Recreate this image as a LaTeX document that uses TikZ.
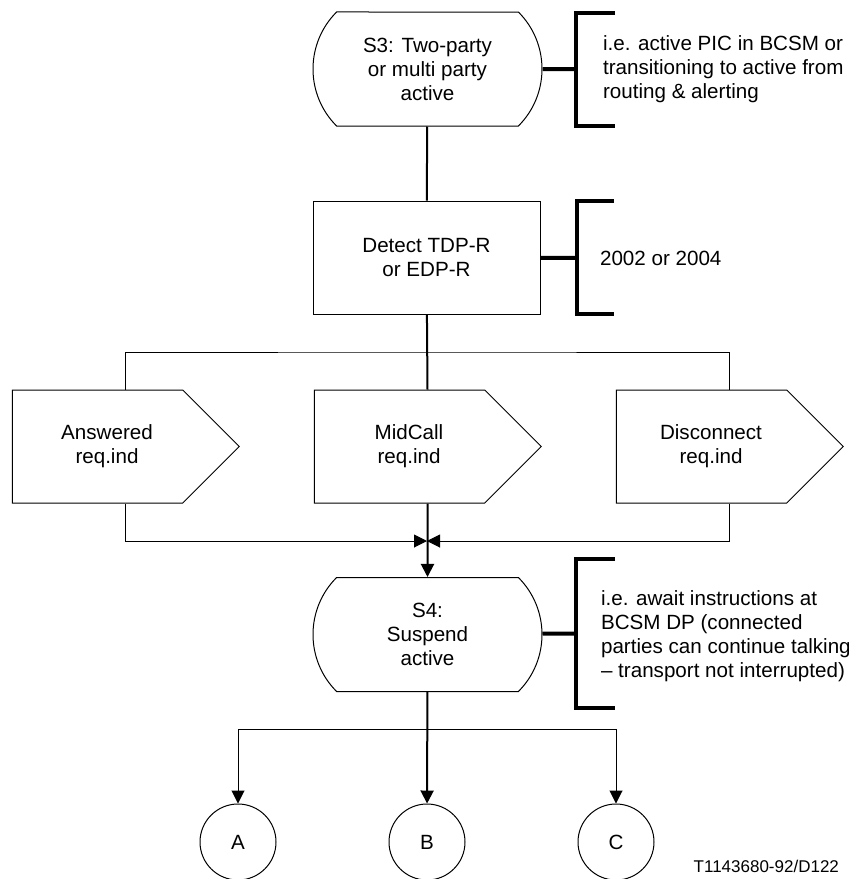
\documentclass[tikz,border=0pt]{standalone}
\usepackage{fontspec}
\setmainfont{Liberation Sans}
\usetikzlibrary{shapes.misc, shapes.symbols, arrows.meta, positioning}

\begin{document}
\begin{tikzpicture}[x=0.5pt, y=-0.5pt,
  font=\fontsize{10.3pt}{12pt}\selectfont,
  state/.style={rounded rectangle, rounded rectangle arc length=90, draw, line width=0.5pt, minimum width=114.5pt, minimum height=57pt, align=center, inner sep=0pt},
  box/.style={rectangle, draw, line width=0.5pt, minimum width=113.5pt, minimum height=56.5pt, align=center},
  sig/.style={signal, signal to=east, signal pointer angle=90, draw, line width=0.5pt, minimum width=113.5pt, minimum height=56.5pt, inner sep=0pt},
  siglabel/.style={align=center, xshift=4.75pt},
  conn/.style={circle, draw, line width=0.5pt, minimum size=38pt, inner sep=0pt},
  note/.style={anchor=west, align=left},
  thinline/.style={line width=0.5pt},
  midline/.style={line width=1pt},
  brace/.style={line width=2pt},
  tip/.style={-{Triangle[length=6.5pt,width=6.5pt]}}]

\useasboundingbox (0,0) rectangle (848,879);

\node[state] (s3) at (427.5,69) {S3: Two-party\\or multi party\\active};
\node[box] (detect) at (426.5,257.5) {Detect TDP-R\\or EDP-R};
\node[sig, label={[siglabel]center:{Answered\\req.ind}}] (ans) at (97.5,446.5) {};
\node[sig, label={[siglabel]center:{MidCall\\req.ind}}] (midcall) at (399.5,446.5) {};
\node[sig, label={[siglabel]center:{Disconnect\\req.ind}}] (disc) at (701.5,446.5) {};
\node[state] (s4) at (427.5,634.5) {S4:\\Suspend\\active};
\node[conn] (a) at (238,842) {A};
\node[conn] (b) at (427,842) {B};
\node[conn] (c) at (616,842) {C};

\node[note] (note1) at (596,69) {i.e. active PIC in BCSM or\\transitioning to active from\\routing \& alerting};
\node[note] (note2) at (593,258) {2002 or 2004};
\node[note] (note3) at (594,636) {i.e. await instructions at\\BCSM DP (connected\\parties can continue talking\\-- transport not interrupted)};
\node[anchor=east, font=\fontsize{8.5pt}{10pt}\selectfont] (tag) at (846,866) {T1143680-92/D122};

\coordinate (k1) at (576,69);
\coordinate (k2) at (577,258);
\coordinate (k3) at (576,633.5);
\coordinate (split) at (427,352);
\coordinate (join) at (427,541);
\coordinate (fork) at (427,729);

\draw[brace] (615,13) -- (576,13) -- (576,126) -- (615,126);
\draw[brace] (614,201) -- (577,201) -- (577,314) -- (614,314);
\draw[brace] (615,559) -- (576,559) -- (576,708) -- (615,708);
\draw[brace] (s3) -- (k1);
\draw[brace] (detect) -- (k2);
\draw[brace] (s4) -- (k3);

\draw[midline] (s3) -- (detect);
\draw[midline] (detect) -- ([xshift=14pt]midcall.north);
\draw[thinline] ([xshift=14pt]ans.north) |- (split) -| ([xshift=14pt]disc.north);
\draw[thinline, tip] ([xshift=14pt]ans.south) |- (join);
\draw[thinline, tip] ([xshift=14pt]disc.south) |- (join);
\draw[midline, tip] ([xshift=14pt]midcall.south) -- (s4);
\draw[thinline, tip] (fork) -| (a);
\draw[thinline, tip] (fork) -| (c);
\draw[midline, tip] (s4) -- (b);

\end{tikzpicture}
\end{document}
